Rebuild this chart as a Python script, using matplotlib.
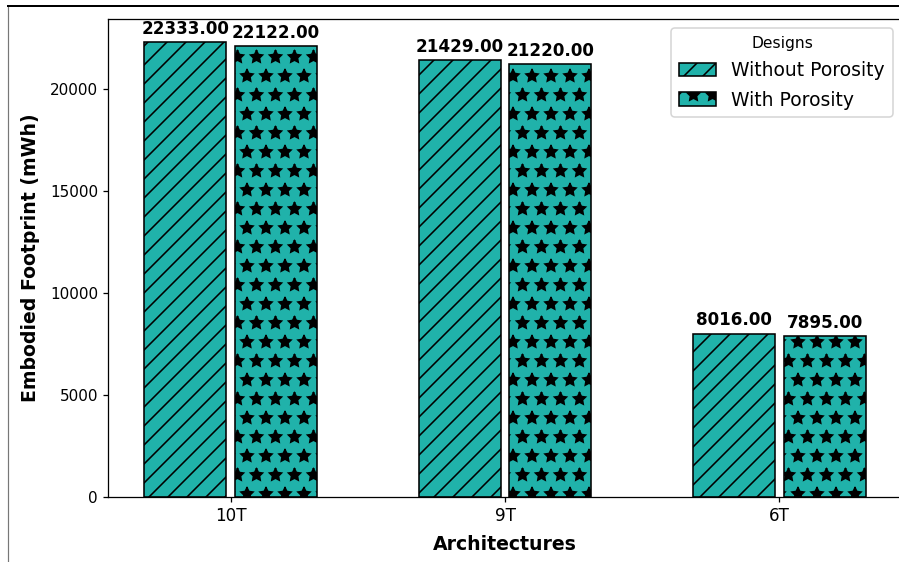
import matplotlib
matplotlib.use("Agg")
import matplotlib.pyplot as plt
from matplotlib.lines import Line2D
import numpy as np

architectures = ["10T", "9T", "6T"]
without_porosity = [22333.00, 21429.00, 8016.00]
with_porosity = [22122.00, 21220.00, 7895.00]
series_labels = ["Without Porosity", "With Porosity"]

DPI = 114
W, H = 899, 562


def pt(px):
    """Convert a size in pixels to points at the output resolution."""
    return px * 72.0 / DPI


plt.rcParams["hatch.linewidth"] = 1.0

fig = plt.figure(figsize=(W / DPI, H / DPI), dpi=DPI)
ax = fig.add_axes([108 / W, (H - 497) / H, (902 - 108) / W, (497 - 19) / H])

x = np.arange(len(architectures))
width = 0.3
offset = 0.165
color = "#20B2AA"

b1 = ax.bar(x - offset, without_porosity, width, color=color, edgecolor="black",
            hatch="//", label=series_labels[0])
b2 = ax.bar(x + offset, with_porosity, width, color=color, edgecolor="black",
            hatch="*", label=series_labels[1])

for bars in (b1, b2):
    for rect in bars:
        h = rect.get_height()
        ax.annotate(f"{h:.2f}", xy=(rect.get_x() + rect.get_width() / 2, h),
                    xytext=(0, pt(4.2)), textcoords="offset points",
                    ha="center", va="bottom", fontsize=pt(16.7), fontweight="bold")

ax.set_xticks(x)
ax.set_xticklabels(architectures, fontsize=pt(16.7))
ax.tick_params(axis="y", labelsize=pt(15.3))
ax.tick_params(length=pt(5), pad=pt(4.9))
ax.set_xlabel("Architectures", fontsize=pt(18.9), fontweight="bold",
              labelpad=pt(10))
ax.set_ylabel("Embodied Footprint (mWh)", fontsize=pt(18.9), fontweight="bold",
              labelpad=pt(10))
ax.legend(title="Designs", fontsize=pt(18.8), title_fontsize=pt(15.5),
          loc="upper right", labelspacing=0.55)

# outer frame lines
fig.add_artist(Line2D([8 / W, 8 / W], [0, 1 - 6 / H], transform=fig.transFigure,
                      color="#777777", linewidth=pt(1.2)))
fig.add_artist(Line2D([8 / W, 1], [1 - 6 / H, 1 - 6 / H], transform=fig.transFigure,
                      color="black", linewidth=pt(2)))

fig.savefig("out.png", dpi=DPI)
